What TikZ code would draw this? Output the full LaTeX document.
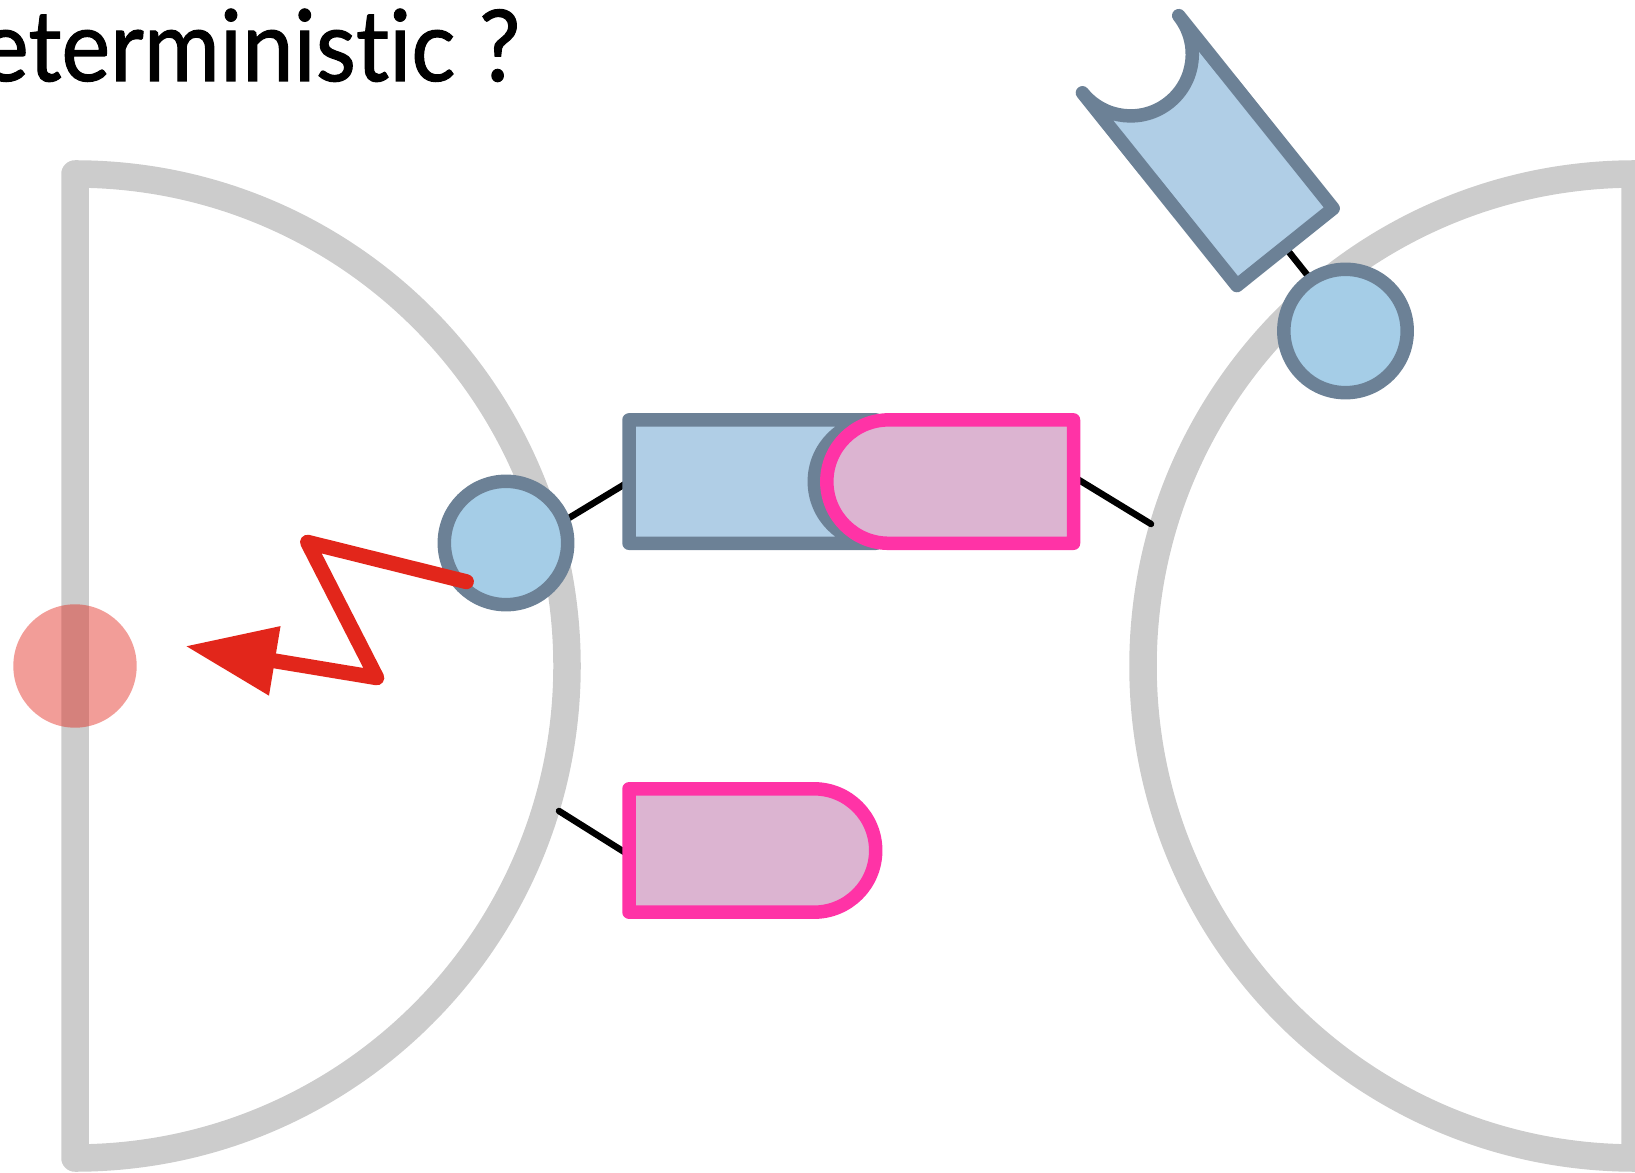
\documentclass[tikz,border=0pt]{standalone}
\usepackage{fontspec}
\setmainfont{Lato}[Ligatures=NoCommon,FakeBold=1.2]
\usetikzlibrary{arrows.meta}
\definecolor{shell}{HTML}{CCCCCC}
\definecolor{slate}{HTML}{6C8196}
\definecolor{sky}{HTML}{A5CDE7}
\definecolor{boxblue}{HTML}{B0CEE6}
\definecolor{hotpink}{HTML}{FF33A6}
\definecolor{lilac}{HTML}{DCB4D1}
\definecolor{boltred}{HTML}{E2261B}
\newcommand{\socketpath}{(2.47,.617) -- (0,.617) -- (0,-.617) -- (2.47,-.617) arc (270:90:.617)}
\newcommand{\plugpath}{(0,.617) -- (1.85,.617) arc (90:-90:.617) -- (0,-.617) -- cycle}
\tikzset{
  shell/.style={draw=shell,line width=.275cm,line join=round},
  stalk/.style={line width=.065cm,line cap=round},
  socket/.style={draw=slate,fill=boxblue,line width=.135cm,line join=round,line cap=round},
  plug/.style={draw=hotpink,fill=lilac,line width=.135cm,line join=round},
  site/.style={circle,draw=slate,fill=sky,line width=.135cm,inner sep=0,minimum size=1.234cm},
  spot/.style={circle,fill=boltred,fill opacity=.45,inner sep=0,minimum size=1.234cm},
  bolt/.style={draw=boltred,line width=.15cm,line join=round,line cap=round}
}
\begin{document}
\begin{tikzpicture}
  \clip (0,0) rectangle (16.35,11.72);
  \node[anchor=base east,inner sep=0,font=\fontsize{26.3}{30}\selectfont](title)at(5.21,10.91){\scalebox{1}[1.07]{eterministic ?}};
  \draw[shell] (0.75,9.98) arc (90:-90:4.92) -- cycle;
  \draw[shell] (16.35,9.98) arc (90:270:4.92) -- cycle;
  % stalks sit under the bodies
  \coordinate (sockmid) at (6.29,6.904);
  \coordinate (plugmid) at (10.735,6.904);
  \coordinate (pluglow) at (6.29,3.215);
  \coordinate (socktop) at (12.85,9.25);
  \coordinate (stalka) at (5.59,6.48);
  \coordinate (stalkb) at (11.51,6.48);
  \coordinate (stalkc) at (5.59,3.61);
  \coordinate (stalkd) at (13.16,8.86);
  \coordinate (stemb) at (10.735,6.953);
  \coordinate (stemc) at (6.29,3.17);
  \draw[stalk] (stalka) -- (sockmid);
  \draw[stalk] (stalkb) -- (stemb);
  \draw[stalk] (stalkc) -- (stemc);
  \draw[stalk] (stalkd) -- (socktop);
  % bodies
  \draw[socket,shift={(sockmid)}] \socketpath;
  \draw[plug,shift={(plugmid)},rotate=180] \plugpath;
  \draw[plug,shift={(pluglow)}] \plugpath;
  \draw[socket,shift={(socktop)},rotate=128.7] \socketpath;
  \node[site](sitea)at(5.06,6.29){};
  \node[site](siteb)at(13.455,8.41){};
  \node[spot](target)at(0.75,5.06){};
  % the bolt
  \coordinate (bolta) at (4.664,5.903);
  \coordinate (boltb) at (3.075,6.298);
  \coordinate (boltc) at (3.768,4.942);
  \coordinate (boltd) at (1.85,5.26);
  \draw[bolt,-{Triangle[length=.91cm,width=.66cm]}] (bolta) -- (boltb) -- (boltc) -- (boltd);
\end{tikzpicture}
\end{document}
